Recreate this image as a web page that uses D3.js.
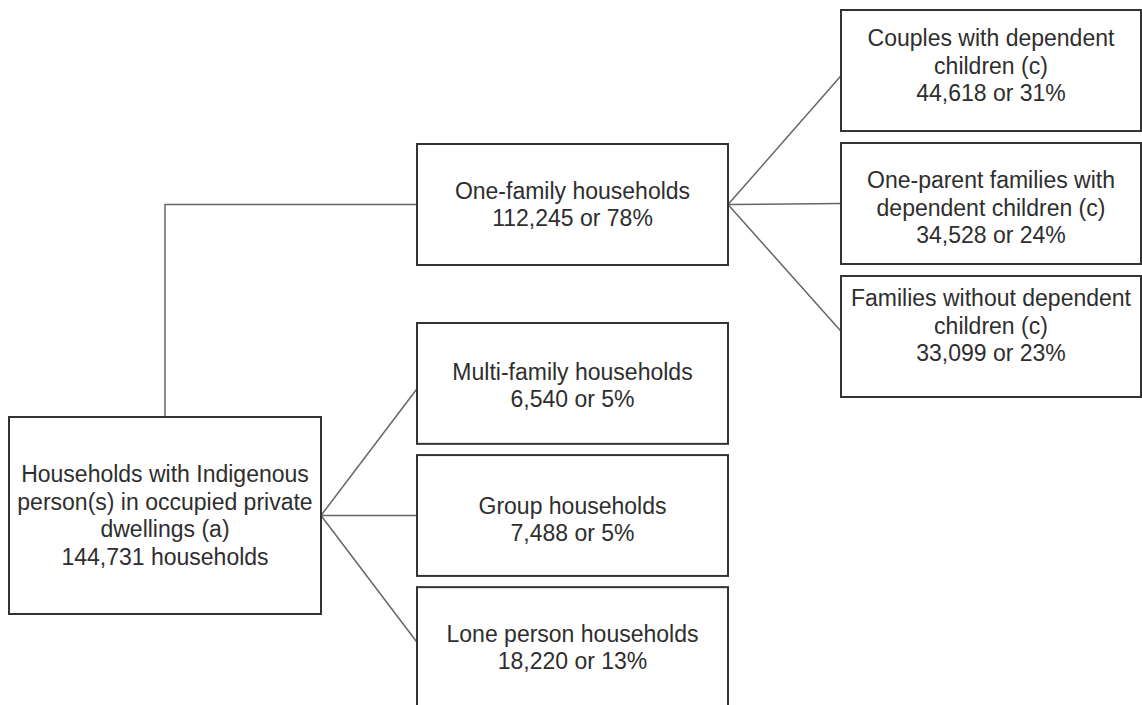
<!DOCTYPE html>
<html>
<head>
<meta charset="utf-8">
<script src="https://cdn.jsdelivr.net/npm/d3@7"></script>
<style>
  body { margin: 0; background: #fff; }
  svg { display: block; }
</style>
</head>
<body>
<div id="tree-chart"></div>
<script>
// household types, in order: root, middle column, right column
const categories = [
  "Households with Indigenous person(s) in occupied private dwellings (a)",
  "One-family households",
  "Multi-family households",
  "Group households",
  "Lone person households",
  "Couples with dependent children (c)",
  "One-parent families with dependent children (c)",
  "Families without dependent children (c)"
];
const labelLines = [
  ["Households with Indigenous", "person(s) in occupied private", "dwellings (a)"],
  ["One-family households"],
  ["Multi-family households"],
  ["Group households"],
  ["Lone person households"],
  ["Couples with dependent", "children (c)"],
  ["One-parent families with", "dependent children (c)"],
  ["Families without dependent", "children (c)"]
];
const counts = [144731, 112245, 6540, 7488, 18220, 44618, 34528, 33099];
const shares = [null, 78, 5, 5, 13, 31, 24, 23];
const parents = [null, 0, 0, 0, 0, 1, 1, 1];

let width = 1142,
    height = 705;

const fontSize = 23;
const lineHeight = 27.5;
const fmt = d3.format(",");

// small nudges of the text block inside some boxes (px), as in the original
const textShift = {3: 4, 5: -5, 6: 4, 7: -11, 2: 2};

let svg = d3.select("#tree-chart")
  .append("svg")
  .attr("width", width)
  .attr("height", height);

let nodes = categories.map((c, i) => ({
  id: i,
  name: c,
  lines: labelLines[i].concat(
    shares[i] == null ? `${fmt(counts[i])} households` : `${fmt(counts[i])} or ${shares[i]}%`
  ),
  parent: parents[i]
}));

// layout: three columns, siblings stacked with band scales
let colX = d3.scaleOrdinal().domain([0, 1, 2]).range([9, 417, 841]);
let colW = d3.scaleOrdinal().domain([0, 1, 2]).range([312, 311, 300]);

let rightBand = d3.scaleBand()
  .domain([5, 6, 7])
  .range([10, 397])
  .paddingInner(0.09);

let lowerBand = d3.scaleBand()
  .domain([2, 3, 4])
  .range([323, 708])
  .paddingInner(0.085);

nodes.forEach(n => {
  if (n.id === 0) {
    n.col = 0; n.y = 417; n.h = 197;
  } else if (n.id === 1) {
    n.col = 1; n.y = 144; n.h = 121;
  } else if (n.id <= 4) {
    n.col = 1; n.y = lowerBand(n.id); n.h = lowerBand.bandwidth();
  } else {
    n.col = 2; n.y = rightBand(n.id); n.h = rightBand.bandwidth();
  }
  n.x = colX(n.col);
  n.w = colW(n.col);
  n.cx = n.x + n.w / 2;
  n.cy = n.y + n.h / 2;
});

// connectors
let links = svg.append("g").attr("class", "links")
  .attr("fill", "none")
  .attr("stroke", "#666")
  .attr("stroke-width", 1.5);

nodes.filter(n => n.parent != null).forEach(n => {
  let p = nodes[n.parent];
  if (n.id === 1) {
    // elbow from the top of the root box up to One-family
    links.append("path")
      .attr("d", `M${p.cx},${p.y} V${n.cy} H${n.x}`);
  } else {
    let ty = n.cy + (p.cy - n.cy) * 0.04;
    links.append("line")
      .attr("x1", p.x + p.w).attr("y1", p.cy)
      .attr("x2", n.x).attr("y2", ty);
  }
});

// boxes
let g = svg.append("g").attr("class", "boxes");

let box = g.selectAll("g.node")
  .data(nodes)
  .join("g")
  .attr("class", "node");

box.append("rect")
  .attr("x", d => d.x)
  .attr("y", d => d.y)
  .attr("width", d => d.w)
  .attr("height", d => d.h)
  .attr("fill", "#fff")
  .attr("stroke", "#333")
  .attr("stroke-width", 2);

box.append("text")
  .attr("text-anchor", "middle")
  .style("font-family", "'Liberation Sans', Arial, sans-serif")
  .style("font-size", fontSize + "px")
  .attr("fill", "#2e2e2e")
  .each(function (d) {
    let t = d3.select(this);
    let y0 = d.cy + (textShift[d.id] || 0) - (d.lines.length - 1) * lineHeight / 2;
    d.lines.forEach((line, i) => {
      t.append("tspan")
        .attr("x", d.cx)
        .attr("y", y0 + i * lineHeight)
        .attr("dy", "0.35em")
        .text(line);
    });
  });
</script>
</body>
</html>
